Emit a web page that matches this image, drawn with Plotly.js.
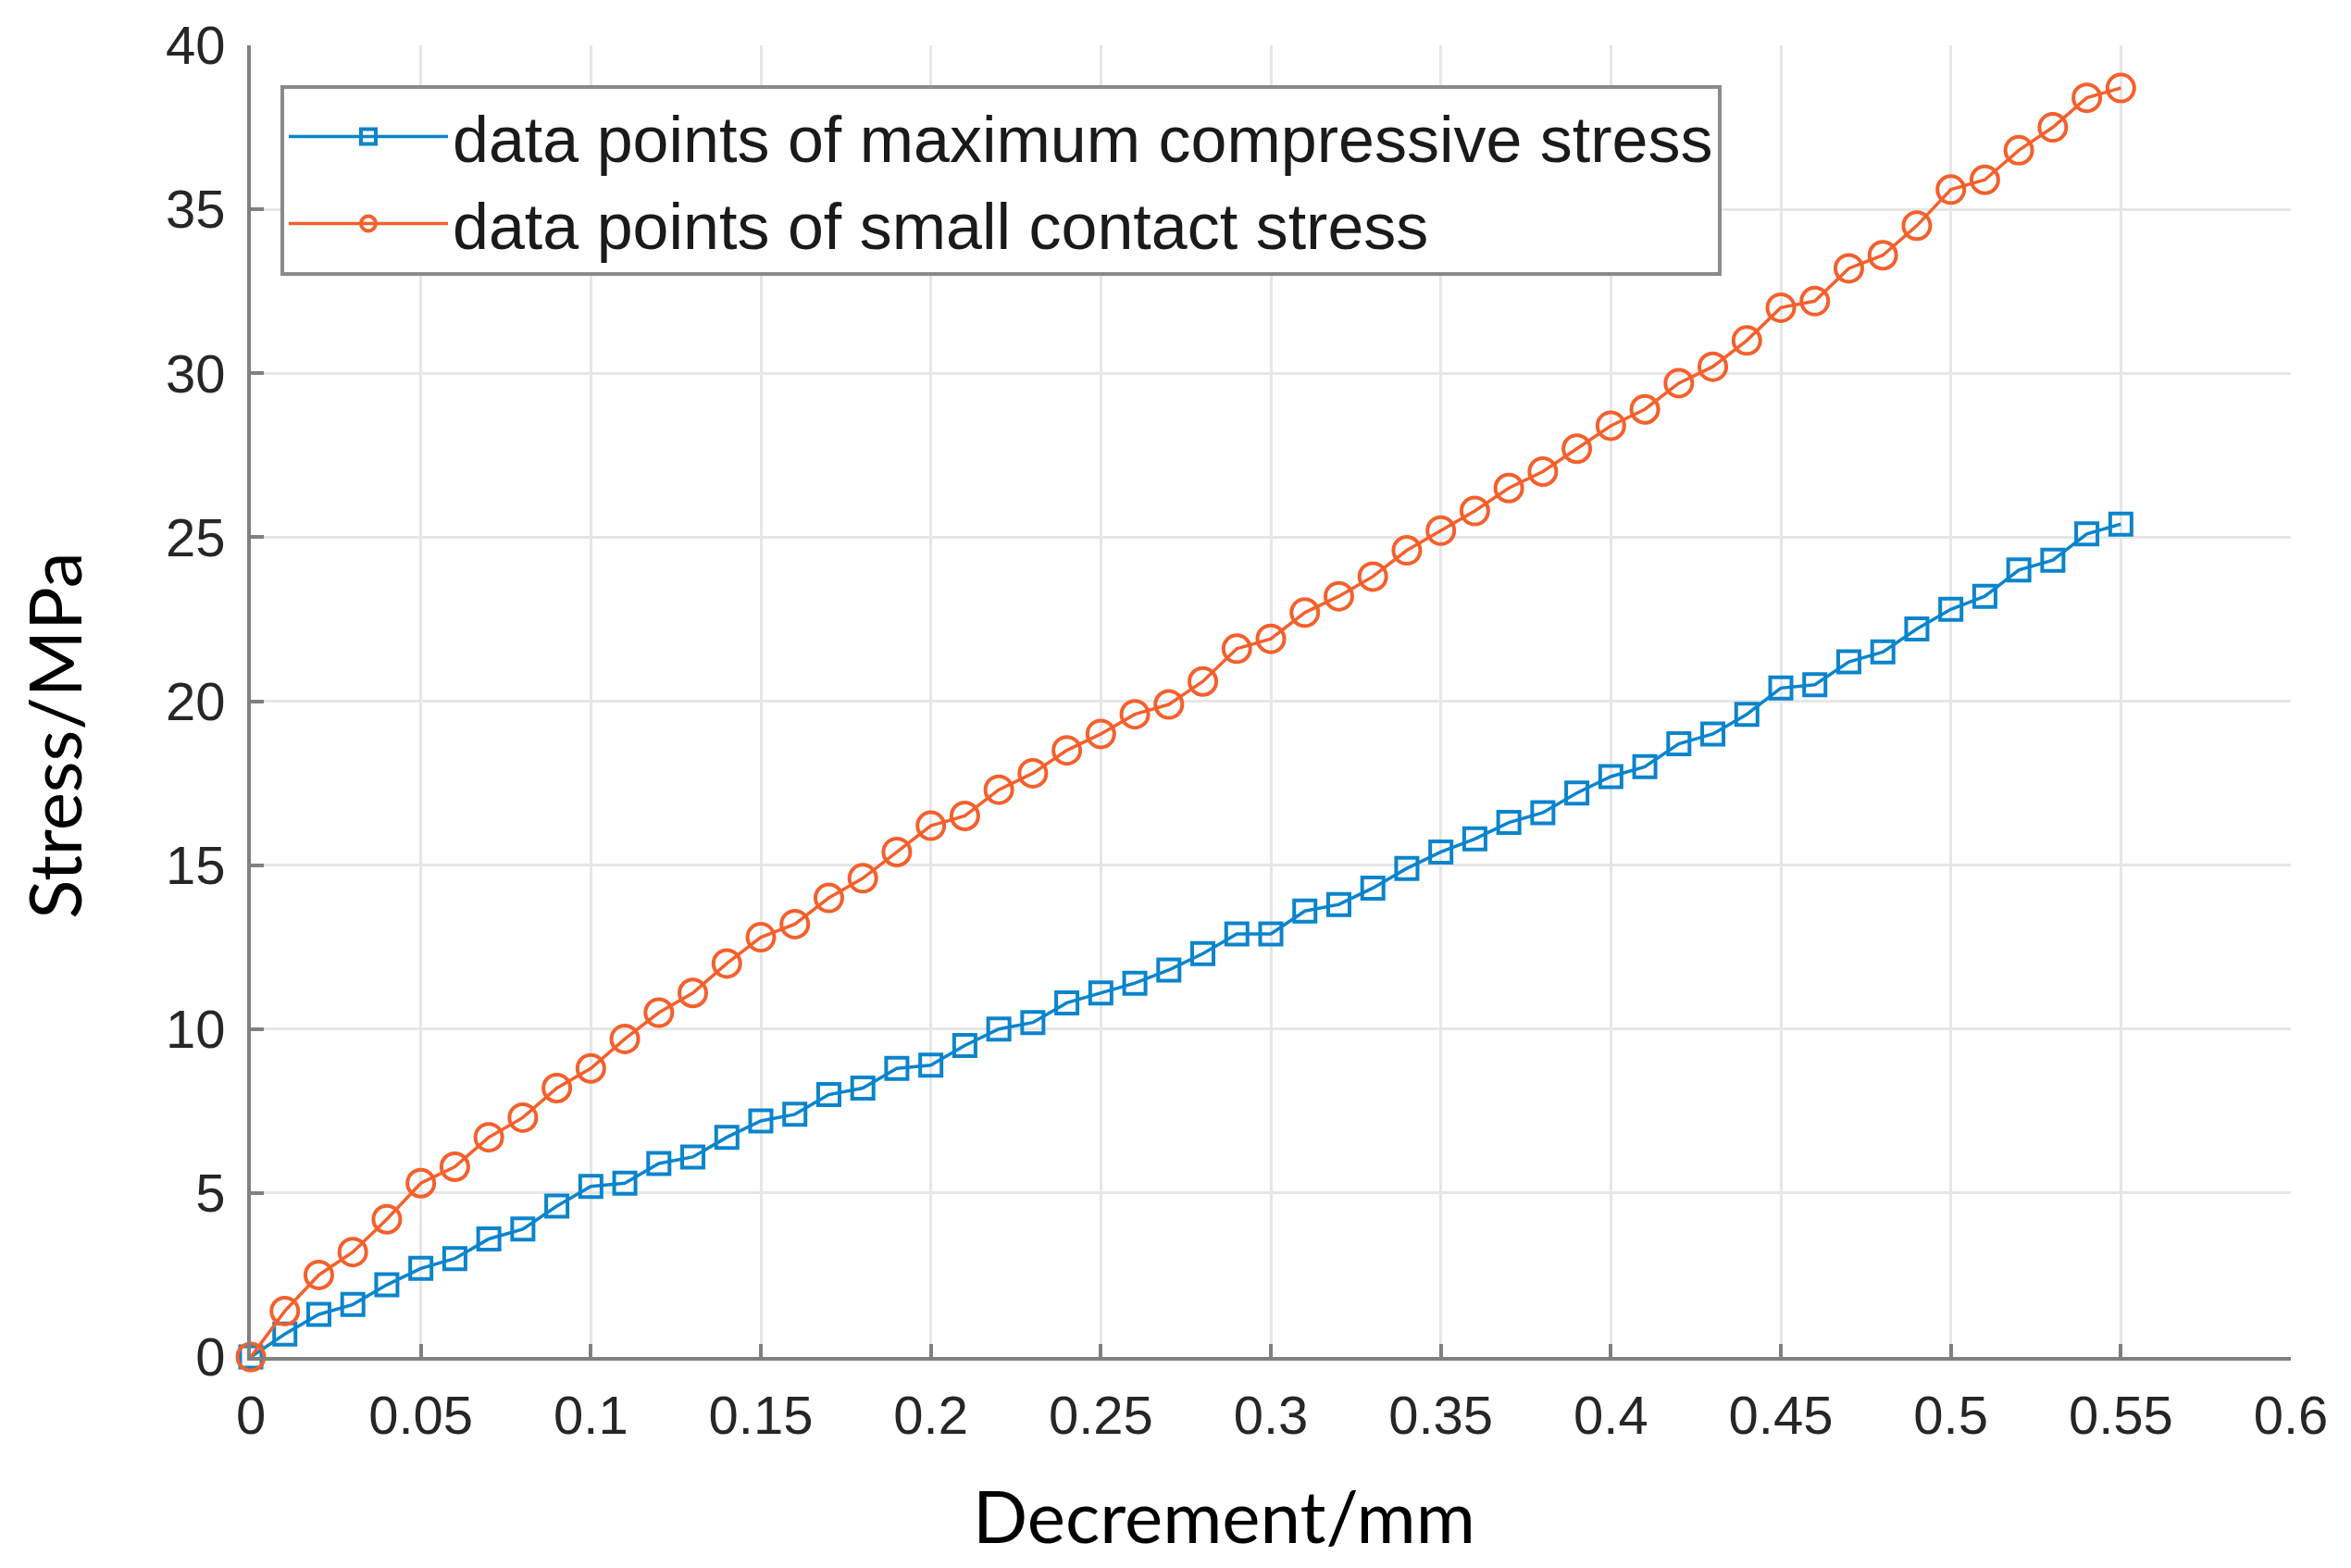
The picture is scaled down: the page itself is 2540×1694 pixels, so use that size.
<!DOCTYPE html>
<html>
<head>
<meta charset="utf-8">
<script src="https://cdn.plot.ly/plotly-3.0.1.min.js"></script>
<style>
  html, body { margin: 0; padding: 0; background: #fff; }
  #chart { width: 2540px; height: 1694px; }
</style>
</head>
<body>
<div id="chart"></div>
<script>
// Decrement (mm) at each data point
const decrement = [0, 0.01, 0.02, 0.03, 0.04, 0.05, 0.06, 0.07, 0.08, 0.09,
  0.10, 0.11, 0.12, 0.13, 0.14, 0.15, 0.16, 0.17, 0.18, 0.19,
  0.20, 0.21, 0.22, 0.23, 0.24, 0.25, 0.26, 0.27, 0.28, 0.29,
  0.30, 0.31, 0.32, 0.33, 0.34, 0.35, 0.36, 0.37, 0.38, 0.39,
  0.40, 0.41, 0.42, 0.43, 0.44, 0.45, 0.46, 0.47, 0.48, 0.49,
  0.50, 0.51, 0.52, 0.53, 0.54, 0.55];

// Stress (MPa)
const maxCompressive = [0, 0.7, 1.3, 1.6, 2.2, 2.7, 3.0, 3.6, 3.9, 4.6,
  5.2, 5.3, 5.9, 6.1, 6.7, 7.2, 7.4, 8.0, 8.2, 8.8,
  8.9, 9.5, 10.0, 10.2, 10.8, 11.1, 11.4, 11.8, 12.3, 12.9,
  12.9, 13.6, 13.8, 14.3, 14.9, 15.4, 15.8, 16.3, 16.6, 17.2,
  17.7, 18.0, 18.7, 19.0, 19.6, 20.4, 20.5, 21.2, 21.5, 22.2,
  22.8, 23.2, 24.0, 24.3, 25.1, 25.4];

const smallContact = [0, 1.4, 2.5, 3.2, 4.2, 5.3, 5.8, 6.7, 7.3, 8.2,
  8.8, 9.7, 10.5, 11.1, 12.0, 12.8, 13.2, 14.0, 14.6, 15.4,
  16.2, 16.5, 17.3, 17.8, 18.5, 19.0, 19.6, 19.9, 20.6, 21.6,
  21.9, 22.7, 23.2, 23.8, 24.6, 25.2, 25.8, 26.5, 27.0, 27.7,
  28.4, 28.9, 29.7, 30.2, 31.0, 32.0, 32.2, 33.2, 33.6, 34.5,
  35.6, 35.9, 36.8, 37.5, 38.4, 38.7];

const seriesNames = ['data points of maximum compressive stress', 'data points of small contact stress'];
const xTitle = 'Decrement/mm';
const yTitle = 'Stress/MPa';

const blue = '#0A84CC';
const orange = '#F4602C';

const traces = [
  {
    x: decrement, y: maxCompressive, name: seriesNames[0],
    type: 'scatter', mode: 'lines+markers', cliponaxis: false,
    line: { color: blue, width: 3.5 },
    marker: { symbol: 'square-open', size: 23, color: blue, line: { width: 4, color: blue } }
  },
  {
    x: decrement, y: smallContact, name: seriesNames[1],
    type: 'scatter', mode: 'lines+markers', cliponaxis: false,
    line: { color: orange, width: 3.5 },
    marker: { symbol: 'circle-open', size: 29, color: orange, line: { width: 4, color: orange } }
  }
];

const axisCommon = {
  showgrid: true, gridcolor: '#E6E6E6', gridwidth: 3,
  showline: true, linecolor: '#808080', linewidth: 4,
  ticks: 'inside', ticklen: 14, tickwidth: 4, tickcolor: '#808080',
  zeroline: false, mirror: false,
  tickfont: { family: 'Liberation Sans, Arial, sans-serif', size: 58, color: '#262626' }
};

const titleFont = { family: 'Lato, sans-serif', size: 78, color: '#000' };

const layout = {
  width: 2540, height: 1694,
  paper_bgcolor: '#fff', plot_bgcolor: '#fff',
  margin: { l: 271, r: 65, t: 49, b: 228 },
  showlegend: true,
  legend: {
    x: 0.0145, y: 0.97, xanchor: 'left', yanchor: 'top',
    bgcolor: '#fff', bordercolor: '#8a8a8a', borderwidth: 4,
    itemwidth: 172,
    font: { family: 'Liberation Sans, Arial, sans-serif', size: 70, color: '#1a1a1a' },
    tracegroupgap: 0
  },
  xaxis: Object.assign({}, axisCommon, {
    range: [0, 0.6], dtick: 0.05, tick0: 0, ticklabelstandoff: 9
  }),
  yaxis: Object.assign({}, axisCommon, {
    range: [0, 40], dtick: 5, tick0: 0, ticklabelstandoff: 12
  }),
  annotations: [
    { text: xTitle, xref: 'paper', yref: 'paper', x: 0.477, y: -0.121,
      xanchor: 'center', yanchor: 'middle', showarrow: false, font: titleFont },
    { text: yTitle, xref: 'paper', yref: 'paper', x: -0.0965, y: 0.474, textangle: -90,
      xanchor: 'center', yanchor: 'middle', showarrow: false, font: titleFont }
  ]
};

Plotly.newPlot('chart', traces, layout, { displayModeBar: false, staticPlot: true });
</script>
</body>
</html>
